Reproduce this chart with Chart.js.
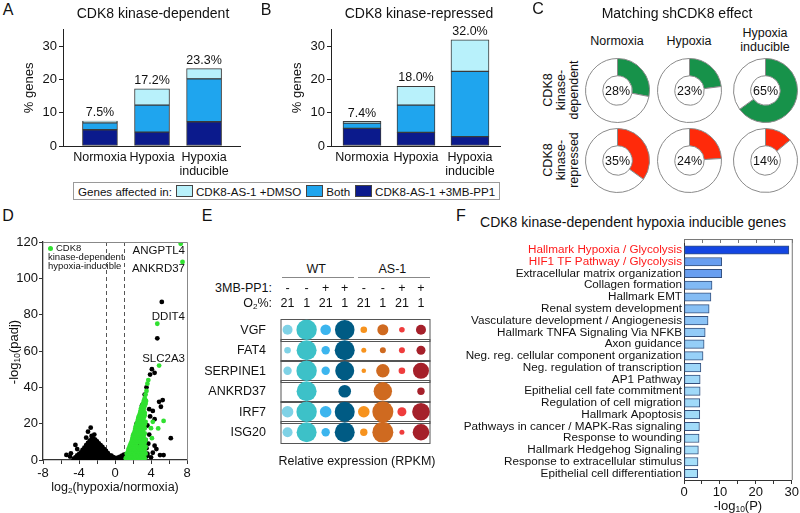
<!DOCTYPE html>
<html>
<head>
<meta charset="utf-8">
<script src="https://cdn.jsdelivr.net/npm/chart.js@4.4.1/dist/chart.umd.min.js"></script>
<style>
  body { margin: 0; background: #fff; }
  #fig { position: relative; width: 800px; height: 513px; overflow: hidden;
         font-family: Arial, "Liberation Sans", Helvetica, sans-serif; color: #111; }
  #fig canvas { position: absolute; }
  .t { position: absolute; white-space: nowrap; line-height: 1; }
  .t sub { font-size: 0.65em; vertical-align: -0.25em; line-height: 0; }
  #legend { position: absolute; left: 73px; top: 182px; width: 425px; height: 16px;
            border: 1px solid #9a9a9a; font-size: 11.6px; display: flex; align-items: center;
            white-space: nowrap; overflow: hidden; }
  #legend .sw { flex: 0 0 auto; width: 15px; height: 10px; border: 1px solid #444; margin: 0 3px 0 0; }
  #legend span { flex: 0 0 auto; margin-right: 5px; }
</style>
</head>
<body>
<div id="fig"></div>
<script>
// ---- panel A / B : % genes per condition ----
const conditions = ['Normoxia', 'Hypoxia', ['Hypoxia', 'inducible']];
const depDark = [4.9, 4.2, 7.3];     // CDK8-AS-1 +3MB-PP1
const depBoth = [2.1, 8.1, 12.9];    // both
const depTotal = [7.5, 17.2, 23.3];
const repDark = [5.3, 4.1, 2.8];
const repBoth = [1.6, 8.2, 19.7];
const repTotal = [7.4, 18.0, 32.0];
const legendNames = ['CDK8-AS-1 +DMSO', 'Both', 'CDK8-AS-1 +3MB-PP1'];
const legendColors = ['#b8f1fb', '#1fa5ee', '#0b1a8c'];

// ---- panel C : matching shCDK8 effect (%) ----
const shColumns = ['Normoxia', 'Hypoxia', ['Hypoxia', 'inducible']];
const shDep = [28, 23, 65];
const shRep = [35, 24, 14];

// ---- panel D : volcano, [log2 fold change, -log10 padj] ----
const labeledGenes = ['ANGPTL4', 'ANKRD37', 'DDIT4', 'SLC2A3'];
const labeledPts = [[7.3, 119], [7.5, 109], [4.7, 75], [4.9, 52]];
const foldCut = [-1, 1];
const greenPts = [
  [1.2, 1], [1.5, 1], [1.8, 1], [2.1, 1], [2.4, 1], [2.7, 1], [3.0, 1], [3.3, 1],
  [1.35, 2.2], [1.65, 2.2], [1.95, 2.2], [2.25, 2.2], [2.55, 2.2], [2.85, 2.2], [3.15, 2.2],
  [1.3, 3.5], [1.6, 3.5], [1.9, 3.5], [2.2, 3.5], [2.5, 3.5], [2.8, 3.5], [3.1, 3.5], [3.4, 3.5],
  [1.45, 4.7], [1.75, 4.7], [2.05, 4.7], [2.35, 4.7], [2.65, 4.7], [2.95, 4.7], [3.25, 4.7],
  [1.5, 6], [1.8, 6], [2.1, 6], [2.4, 6], [2.7, 6], [3.0, 6], [3.3, 6],
  [1.6, 7.2], [1.9, 7.2], [2.2, 7.2], [2.5, 7.2], [2.8, 7.2], [3.1, 7.2], [3.4, 7.2],
  [1.7, 8.5], [2.0, 8.5], [2.3, 8.5], [2.9, 8.5], [3.2, 8.5],
  [1.8, 9.7], [2.1, 9.7], [2.4, 9.7], [2.7, 9.7], [3.0, 9.7], [3.3, 9.7],
  [1.9, 11], [2.2, 11], [2.5, 11], [2.8, 11], [3.1, 11], [3.4, 11],
  [1.95, 12.2], [2.25, 12.2], [2.55, 12.2], [2.85, 12.2], [3.15, 12.2],
  [2.0, 13.5], [2.3, 13.5], [2.6, 13.5], [2.9, 13.5], [3.2, 13.5],
  [2.1, 14.7], [2.4, 14.7], [2.7, 14.7], [3.0, 14.7], [3.3, 14.7],
  [2.2, 16], [2.5, 16], [2.8, 16], [3.1, 16], [3.3, 17.4],
  [2.25, 17.2], [2.55, 17.2], [2.85, 17.2], [3.15, 17.2],
  [2.3, 18.5], [2.6, 18.5], [2.9, 18.5], [3.2, 18.5],
  [2.4, 19.7], [2.7, 19.7], [3.0, 19.7], [3.3, 19.7],
  [2.5, 21], [2.8, 21], [3.1, 21], [3.4, 21],
  [2.55, 22.2], [2.85, 22.2], [3.15, 22.2],
  [2.6, 23.5], [2.9, 23.5], [3.2, 23.5],
  [2.7, 24.7], [3.0, 24.7], [3.3, 24.7],
  [2.8, 26], [3.1, 26], [3.3, 26], [2.85, 27.2], [3.15, 27.2], [2.9, 28.5], [3.2, 28.5],
  [3.0, 29.7], [3.3, 29.7], [3.1, 31], [3.4, 31], [3.2, 32.5], [3.45, 32.5], [3.3, 34], [3.4, 36],
  [3.5, 38], [3.6, 42], [3.7, 44],
  [4.2, 21], [4.0, 17.5], [4.8, 17.4], [5.4, 21.5], [4.1, 12],
  [7.3, 119], [7.5, 109], [4.7, 75], [4.9, 52]
];
const blackPts = [
  [-5.4, 2.8], [-5.0, 1.9], [-4.9, 3.7], [-4.4, 8.3], [-4.2, 6.0], [-3.6, 5.6], [-3.2, 12.3],
  [-3.0, 15.6], [-2.7, 17.8], [-2.3, 14.0], [-2.6, 13.2],
  [-4.6, 0.6], [-4.4, 1.5], [-4.2, 0.6], [-4.2, 2.6], [-4.0, 1.4], [-4.0, 3.2], [-3.8, 0.6], [-3.8, 2.4], [-3.8, 4.2],
  [-3.6, 1.4], [-3.6, 3.4], [-3.4, 0.6], [-3.4, 2.6], [-3.4, 4.8], [-3.4, 6.8], [-3.2, 1.6], [-3.2, 3.8], [-3.2, 6.0], [-3.2, 8.2],
  [-3.0, 0.6], [-3.0, 2.8], [-3.0, 5.0], [-3.0, 7.2], [-3.0, 9.4], [-2.8, 1.6], [-2.8, 3.8], [-2.8, 6.0], [-2.8, 8.4], [-2.8, 10.6],
  [-2.6, 0.6], [-2.6, 2.8], [-2.6, 5.0], [-2.6, 7.2], [-2.6, 9.4], [-2.6, 11.4], [-2.4, 1.6], [-2.4, 3.8], [-2.4, 6.0], [-2.4, 8.2],
  [-2.4, 10.4], [-2.4, 11.8], [-2.2, 0.6], [-2.2, 2.8], [-2.2, 5.0], [-2.2, 7.2], [-2.2, 9.4], [-2.2, 11.2],
  [-2.0, 1.6], [-2.0, 3.8], [-2.0, 6.0], [-2.0, 8.2], [-2.0, 10.2], [-1.8, 0.6], [-1.8, 2.8], [-1.8, 5.0], [-1.8, 7.2], [-1.8, 9.2],
  [-1.6, 1.6], [-1.6, 3.8], [-1.6, 6.0], [-1.6, 8.2], [-1.4, 0.6], [-1.4, 2.8], [-1.4, 5.0], [-1.4, 7.2],
  [-1.2, 1.6], [-1.2, 3.8], [-1.2, 6.0], [-1.0, 0.6], [-1.0, 2.8], [-1.0, 5.0], [-0.8, 1.6], [-0.8, 3.8],
  [-0.6, 0.6], [-0.6, 2.6], [-0.4, 1.2], [-0.4, 2.4], [-0.2, 0.6], [-0.2, 1.6], [0.0, 0.4], [0.0, 1.2], [0.2, 0.5], [0.2, 1.0],
  [0.4, 0.6], [0.4, 1.4], [0.6, 0.5], [0.6, 1.8], [0.8, 0.8], [0.8, 2.4], [1.0, 0.6], [1.0, 3.0],
  [3.4, 1.5], [3.6, 3.5], [3.5, 6.5], [3.7, 9.0], [3.4, 11.0], [3.8, 14.0], [3.6, 19.0], [3.9, 24.0], [3.8, 28.0],
  [4.2, 27.0], [4.4, 22.5], [4.9, 32.0], [5.1, 29.3], [5.3, 33.0], [6.2, 12.0], [4.4, 7.9], [4.6, 6.0], [5.0, 2.7],
  [5.4, 2.7], [3.6, 2.4], [4.0, 1.5], [4.2, 4.0], [3.9, 47], [4.1, 50], [4.4, 48], [3.5, 40], [4.7, 67], [5.2, 87],
  [2.6, 9], [2.8, 9], [3.0, 9], [3.2, 9], [2.4, 20], [3.0, 30], [3.3, 36]
];

// ---- panel E : relative expression (RPKM, scaled to row max) ----
const genes = ['VGF', 'FAT4', 'SERPINE1', 'ANKRD37', 'IRF7', 'ISG20'];
const groups = ['WT', 'AS-1'];
const inhibitor = ['-', '-', '+', '+', '-', '-', '+', '+'];
const oxygen = ['21', '1', '21', '1', '21', '1', '21', '1'];
const relExpr = [
  [0.50, 1.02, 0.53, 0.98, 0.33, 0.55, 0.28, 0.50],
  [0.33, 1.00, 0.42, 1.00, 0.25, 0.30, 0.30, 0.45],
  [0.42, 1.02, 0.42, 0.95, 0.23, 0.67, 0.33, 0.80],
  [0.00, 1.00, 0.00, 0.63, 0.00, 0.92, 0.00, 0.37],
  [0.58, 1.02, 0.58, 1.00, 0.58, 1.05, 0.45, 0.88],
  [0.50, 1.00, 0.42, 1.00, 0.37, 1.05, 0.25, 0.83]
];
const condColors = ['#7fd2e6', '#3dc1c8', '#3cb5ee', '#005b84', '#f7931e', '#cf6a20', '#ef3d3d', '#a5202a'];

// ---- panel F : enrichment, -log10(P) ----
const goTerms = [
  'Hallmark Hypoxia / Glycolysis', 'HIF1 TF Pathway / Glycolysis', 'Extracellular matrix organization',
  'Collagen formation', 'Hallmark EMT', 'Renal system development', 'Vasculature development / Angiogenesis',
  'Hallmark TNFA Signaling Via NFKB', 'Axon guidance', 'Neg. reg. cellular component organization',
  'Neg. regulation of transcription', 'AP1 Pathway', 'Epithelial cell fate commitment',
  'Regulation of cell migration', 'Hallmark Apoptosis', 'Pathways in cancer / MAPK-Ras signaling',
  'Response to wounding', 'Hallmark Hedgehog Signaling', 'Response to extracellular stimulus',
  'Epithelial cell differentiation'
];
const goLogP = [29.2, 10.5, 10.5, 7.8, 7.5, 7.0, 6.7, 5.9, 5.6, 5.3, 4.7, 4.5, 4.5, 4.4, 4.4, 4.3, 4.2, 4.0, 3.9, 3.8];
const goHighlighted = 2;

const FONT = 'Arial, "Liberation Sans", Helvetica, sans-serif';
Chart.defaults.font.family = FONT;
Chart.defaults.color = '#111';
Chart.defaults.animation = false;
Chart.defaults.events = [];
Chart.defaults.plugins.legend.display = false;
Chart.defaults.plugins.tooltip.enabled = false;

const fig = document.getElementById('fig');

function addCanvas(left, top, w, h) {
  const c = document.createElement('canvas');
  c.width = w; c.height = h;
  c.style.left = left + 'px'; c.style.top = top + 'px';
  c.style.width = w + 'px'; c.style.height = h + 'px';
  fig.appendChild(c);
  return c;
}

// anchor: c = centre, l = left-middle, r = right-middle
function txt(html, x, y, size, anchor = 'c', extra = '') {
  const d = document.createElement('div');
  d.className = 't';
  d.innerHTML = html;
  const tr = anchor === 'c' ? 'translate(-50%,-50%)' : anchor === 'r' ? 'translate(-100%,-50%)' : 'translate(0,-50%)';
  d.style.cssText = `left:${x}px;top:${y}px;font-size:${size}px;transform:${tr} ${extra};text-align:center;`;
  fig.appendChild(d);
  return d;
}

const totalsPlugin = {
  id: 'totals',
  afterDatasetsDraw(chart, args, opts) {
    const { ctx } = chart;
    const meta = chart.getDatasetMeta(chart.data.datasets.length - 1);
    ctx.save();
    ctx.font = '12.5px ' + FONT;
    ctx.fillStyle = '#111';
    ctx.textAlign = 'center';
    ctx.textBaseline = 'bottom';
    meta.data.forEach((bar, i) => ctx.fillText(opts.labels[i], bar.x, bar.y - 2));
    ctx.restore();
  }
};

const framePlugin = {
  id: 'frame',
  afterDraw(chart, args, opts) {
    const { ctx, chartArea: a } = chart;
    ctx.save();
    ctx.strokeStyle = opts.color || '#777';
    ctx.lineWidth = 1;
    ctx.beginPath();
    ctx.moveTo(a.left, a.top + 0.5);
    ctx.lineTo(a.right + 0.5, a.top + 0.5);
    ctx.lineTo(a.right + 0.5, a.bottom);
    if (opts.topTicks) {
      const xs = chart.scales.x;
      xs.ticks.forEach(t => {
        const px = Math.round(xs.getPixelForValue(t.value)) + 0.5;
        ctx.moveTo(px, a.top);
        ctx.lineTo(px, a.top + 4);
      });
    }
    ctx.stroke();
    ctx.restore();
  }
};

const cutPlugin = {
  id: 'cuts',
  beforeDatasetsDraw(chart, args, opts) {
    const { ctx, chartArea: a, scales } = chart;
    ctx.save();
    ctx.strokeStyle = '#555';
    ctx.lineWidth = 1;
    ctx.setLineDash([4, 3]);
    opts.values.forEach(v => {
      const px = Math.round(scales.x.getPixelForValue(v)) + 0.5;
      ctx.beginPath();
      ctx.moveTo(px, a.top);
      ctx.lineTo(px, a.bottom);
      ctx.stroke();
    });
    ctx.restore();
  }
};

const geneTagPlugin = {
  id: 'geneTags',
  afterDatasetsDraw(chart, args, opts) {
    const { ctx, chartArea: a, scales } = chart;
    ctx.save();
    ctx.font = '11.5px ' + FONT;
    ctx.fillStyle = '#111';
    ctx.textAlign = 'right';
    ctx.textBaseline = 'middle';
    opts.names.forEach((g, i) => {
      const y = opts.points[i][1];
      const py = scales.y.getPixelForValue(y);
      ctx.fillText(g, a.right - 2, py + (y > 100 ? 7 : -7));
    });
    ctx.restore();
  }
};

const centerPctPlugin = {
  id: 'centerPct',
  afterDraw(chart) {
    const { ctx, chartArea: a } = chart;
    ctx.save();
    ctx.font = '12.5px ' + FONT;
    ctx.fillStyle = '#111';
    ctx.textAlign = 'center';
    ctx.textBaseline = 'middle';
    ctx.fillText(chart.data.datasets[0].data[0] + '%', (a.left + a.right) / 2, (a.top + a.bottom) / 2 + 1);
    ctx.restore();
  }
};

const rowBoxPlugin = {
  id: 'rowBoxes',
  beforeDatasetsDraw(chart) {
    const { ctx, chartArea: a, scales } = chart;
    ctx.save();
    ctx.strokeStyle = '#555';
    ctx.lineWidth = 1;
    genes.forEach((g, i) => {
      const py = Math.round(scales.y.getPixelForValue(i));
      ctx.strokeRect(a.left + 0.5, py - 10.5, a.right - a.left - 1, 22);
    });
    ctx.restore();
  }
};

// ---------- A & B ----------
function stackedPanel(canvas, dark, both, total, xMin, xMax, barW) {
  const light = total.map((t, i) => +(t - dark[i] - both[i]).toFixed(2));
  const pts = arr => arr.map((v, i) => ({ x: i, y: v }));
  return new Chart(canvas, {
    type: 'bar',
    data: {
      datasets: [
        { data: pts(dark), backgroundColor: legendColors[2] },
        { data: pts(both), backgroundColor: legendColors[1] },
        { data: pts(light), backgroundColor: legendColors[0] }
      ]
    },
    options: {
      responsive: false,
      layout: { padding: { left: 22, top: 8, right: 15, bottom: 0 } },
      datasets: { bar: { barThickness: barW, borderColor: '#3a3a3a', borderWidth: 1, borderSkipped: false } },
      scales: {
        x: {
          type: 'linear', stacked: true, offset: false, min: xMin, max: xMax,
          afterBuildTicks: s => { s.ticks = conditions.map((_, i) => ({ value: i })); },
          ticks: { callback: v => conditions[v], font: { size: 12.5, lineHeight: 1.1 }, padding: 5, autoSkip: false, maxRotation: 0 },
          grid: { display: false, drawTicks: false },
          border: { color: '#222', width: 1 },
          afterFit: s => { s.height = 34; }
        },
        y: {
          stacked: true, min: 0, max: 35,
          afterBuildTicks: s => { s.ticks = s.ticks.filter(t => t.value % 10 === 0); },
          ticks: { stepSize: 10, font: { size: 13 }, padding: 2 },
          grid: { drawOnChartArea: false, tickLength: 4, color: '#222' },
          border: { color: '#222', width: 1 },
          title: { display: true, text: '% genes', font: { size: 13 }, padding: { top: 0, bottom: 2 } },
          afterFit: s => { s.width = 41; }
        }
      },
      plugins: { totals: { labels: total.map(v => v.toFixed(1) + '%') } }
    },
    plugins: [totalsPlugin]
  });
}

stackedPanel(addCanvas(0, 20, 255, 160), depDark, depBoth, depTotal, -0.71, 2.69, 35);
stackedPanel(addCanvas(268, 20, 247, 160), repDark, repBoth, repTotal, -0.574, 2.556, 38);

txt('A', 8, 10, 16);
txt('CDK8 kinase-dependent', 153, 13, 14);
txt('B', 266, 10, 16);
txt('CDK8 kinase-repressed', 419, 13, 14);

const legend = document.createElement('div');
legend.id = 'legend';
legend.innerHTML = '<span style="margin-left:4px;margin-right:4px">Genes affected in:</span>' +
  legendNames.map((n, i) => `<div class="sw" style="background:${legendColors[i]}"></div><span>${n}</span>`).join('');
fig.appendChild(legend);

// ---------- C ----------
txt('C', 538, 9, 16);
txt('Matching shCDK8 effect', 677, 13, 14);
const ringX = [617, 689, 765];
const ringY = [90, 160];
shColumns.forEach((c, j) => {
  if (Array.isArray(c)) {
    txt(c[0], ringX[j], 33, 12.5);
    txt(c[1], ringX[j], 47, 12.5);
  } else {
    txt(c, ringX[j], 41, 12.5);
  }
});
txt('CDK8<br>kinase-<br>dependent', 561, ringY[0], 12.5, 'c', 'rotate(-90deg)').style.lineHeight = '13px';
txt('CDK8<br>kinase-<br>repressed', 561, ringY[1], 12.5, 'c', 'rotate(-90deg)').style.lineHeight = '13px';

function ring(cx, cy, pct, color) {
  const c = addCanvas(cx - 32, cy - 32, 65, 65);
  new Chart(c, {
    type: 'doughnut',
    data: { datasets: [{ data: [pct, 100 - pct], backgroundColor: [color, '#fff'], borderColor: '#8a8a8a', borderWidth: 1 }] },
    options: { responsive: false, cutout: '46%' },
    plugins: [centerPctPlugin]
  });
}
shDep.forEach((p, j) => ring(ringX[j], ringY[0], p, '#17924a'));
shRep.forEach((p, j) => ring(ringX[j], ringY[1], p, '#ff2a0a'));

// ---------- D ----------
txt('D', 8, 216, 16);
new Chart(addCanvas(0, 225, 200, 272), {
  type: 'scatter',
  data: {
    datasets: [
      { data: greenPts.map(([x, y]) => ({ x, y })), backgroundColor: '#30e030', pointRadius: 2.4, borderWidth: 0, order: 1 },
      { data: blackPts.map(([x, y]) => ({ x, y })), backgroundColor: '#000', pointRadius: 2.4, borderWidth: 0, order: 2 }
    ]
  },
  options: {
    responsive: false,
    layout: { padding: { left: 0, top: 17, right: 13, bottom: 0 } },
    scales: {
      x: {
        min: -8, max: 8,
        ticks: { stepSize: 2, callback: v => (v % 4 === 0 ? v : ''), font: { size: 13 }, padding: 2, maxRotation: 0, autoSkip: false },
        grid: { drawOnChartArea: false, tickLength: 4, color: '#333' },
        border: { color: '#333', width: 1.3 },
        afterFit: s => { s.height = 37; }
      },
      y: {
        min: 0, max: 120,
        ticks: { stepSize: 20, font: { size: 13 }, padding: 1 },
        grid: { drawOnChartArea: false, tickLength: 4, color: '#333' },
        border: { color: '#333', width: 1.3 },
        afterFit: s => { s.width = 43; }
      }
    },
    plugins: {
      frame: { color: '#888' },
      cuts: { values: foldCut },
      geneTags: { names: labeledGenes, points: labeledPts }
    }
  },
  plugins: [framePlugin, cutPlugin, geneTagPlugin]
});
txt('-log<sub>10</sub>(padj)', 13, 352, 13, 'c', 'rotate(-90deg)');
txt('log<sub>2</sub>(hypoxia/normoxia)', 115, 487, 12.5);
const dot = document.createElement('div');
dot.style.cssText = 'position:absolute;left:48px;top:246px;width:5px;height:5px;border-radius:50%;background:#30e030;';
fig.appendChild(dot);
txt('CDK8', 56, 248, 9.5, 'l');
txt('kinase-dependent', 48, 257, 9.5, 'l');
txt('hypoxia-inducible', 48, 266, 9.5, 'l');

// ---------- E ----------
txt('E', 207, 216, 16);
const eChart = new Chart(addCanvas(270, 309, 171, 144), {
  type: 'bubble',
  data: {
    datasets: condColors.map((col, j) => ({
      data: genes.map((g, i) => ({ x: j, y: i, r: relExpr[i][j] * 10 })),
      backgroundColor: col, borderWidth: 0
    }))
  },
  options: {
    responsive: false,
    layout: { padding: 0 },
    scales: {
      x: { display: false, min: -0.37, max: 7.5 },
      y: { display: false, min: -0.5, max: 5.5, reverse: true }
    }
  },
  plugins: [rowBoxPlugin]
});
{
  const colX = j => 270 + eChart.scales.x.getPixelForValue(j);
  const rowY = i => 309 + eChart.scales.y.getPixelForValue(i);
  groups.forEach((g, k) => {
    const x0 = colX(k * 4) - 6, x1 = colX(k * 4 + 3) + 12;
    txt(g, (x0 + x1) / 2 - 3, 269, 12.5);
    const ln = document.createElement('div');
    ln.style.cssText = `position:absolute;left:${x0}px;top:277px;width:${x1 - x0 - 3}px;height:1px;background:#888;`;
    fig.appendChild(ln);
  });
  txt('3MB-PP1:', 272, 288, 12.5, 'r');
  txt('O<sub>2</sub>%:', 272, 303, 12.5, 'r');
  inhibitor.forEach((s, j) => txt(s, colX(j), 288, 12.5));
  oxygen.forEach((s, j) => txt(s, colX(j), 303, 12.5));
  genes.forEach((g, i) => txt(g, 266, rowY(i), 12.5, 'r'));
  txt('Relative expression (RPKM)', 357, 461, 12.5);
}

// ---------- F ----------
txt('F', 461, 216, 16);
txt('CDK8 kinase-dependent hypoxia inducible genes', 633, 222, 14);
function goColor(v) {
  if (v > 20) return '#1446e2';
  const t = Math.min(1, Math.max(0, (v - 3.8) / (10.5 - 3.8)));
  const a = [166, 224, 250], b = [104, 158, 240];
  return `rgb(${a.map((c, k) => Math.round(c + (b[k] - c) * t)).join(',')})`;
}
new Chart(addCanvas(440, 230, 360, 283), {
  type: 'bar',
  data: {
    datasets: [{
      data: goLogP.map((v, i) => ({ x: v, y: i })),
      backgroundColor: goLogP.map(goColor),
      borderColor: '#34507e', borderWidth: 1, borderSkipped: false, barThickness: 8.5
    }]
  },
  options: {
    responsive: false,
    indexAxis: 'y',
    layout: { padding: { left: 0, top: 7, right: 8, bottom: 0 } },
    scales: {
      y: {
        type: 'linear', offset: false, reverse: true, min: -0.93, max: 19.55,
        afterBuildTicks: s => { s.ticks = goTerms.map((_, i) => ({ value: i })); },
        ticks: {
          callback: v => goTerms[v], autoSkip: false, font: { size: 11.7 }, padding: 2,
          color: c => (c.index < goHighlighted ? '#ff1a1a' : '#111')
        },
        grid: { display: false, drawTicks: false },
        border: { color: '#333', width: 1 },
        afterFit: s => { s.width = 244; }
      },
      x: {
        min: 0, max: 30,
        ticks: { stepSize: 5, callback: v => (v % 10 === 0 ? v : ''), font: { size: 13 }, padding: 1, maxRotation: 0, autoSkip: false },
        grid: { drawOnChartArea: false, tickLength: 4, color: '#333' },
        border: { color: '#333', width: 1 },
        afterFit: s => { s.height = 33; }
      }
    },
    plugins: { frame: { color: '#777', topTicks: true } }
  },
  plugins: [framePlugin]
});
txt('-log<sub>10</sub>(P)', 738, 505, 13);
</script>
</body>
</html>
